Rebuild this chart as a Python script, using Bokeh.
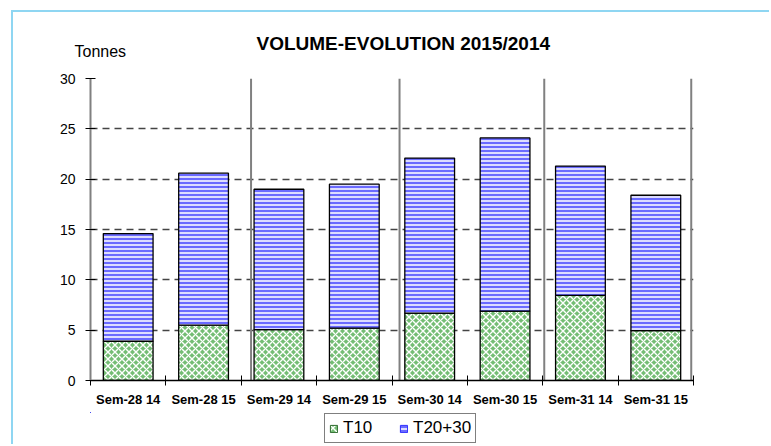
from bokeh.plotting import figure
from bokeh.models import FixedTicker, Legend, LegendItem, ColumnDataSource, LinearAxis
from bokeh.layouts import column
from bokeh.embed import file_html
from bokeh.resources import INLINE

categories = ["Sem-28 14", "Sem-28 15", "Sem-29 14", "Sem-29 15",
              "Sem-30 14", "Sem-30 15", "Sem-31 14", "Sem-31 15"]
t10 = [3.9, 5.5, 5.05, 5.2, 6.7, 6.9, 8.45, 4.95]
t20_30 = [10.7, 15.1, 13.95, 14.3, 15.4, 17.2, 12.85, 13.45]
y_ticks = [0, 5, 10, 15, 20, 25, 30]
separators = [2.13, 4.1, 6.02, 7.97]
unit_label = "Tonnes"
title_text = "VOLUME-EVOLUTION 2015/2014"
series_names = ["T10", "T20+30"]

centers = [i + 0.5 for i in range(len(categories))]
tops = [a + b for a, b in zip(t10, t20_30)]
src = ColumnDataSource(dict(x=centers, t10=t10, top=tops))

FONT = "Liberation Sans"
fill_t10 = dict(fill_color="#74bd74", hatch_pattern="x", hatch_color="white",
                hatch_weight=1.4, hatch_scale=7)
fill_t20 = dict(fill_color="#dcdcff", hatch_pattern="-", hatch_color="#2a2aff",
                hatch_weight=1.3, hatch_scale=4)

p = figure(width=756, height=400, x_range=(0, 8), y_range=(0, 30),
           output_backend="svg", toolbar_location=None,
           min_border_left=77, min_border_right=76, min_border_top=66,
           min_border_bottom=32)
p.outline_line_color = None
p.background_fill_color = "white"

xa = p.below[0]
ya = p.left[0]

# unit label as a top axis (nearest to the frame)
ua = LinearAxis(ticker=FixedTicker(ticks=[0.13]),
                major_label_overrides={0.13: unit_label},
                axis_line_color=None, major_tick_line_color=None,
                minor_tick_line_color=None, major_label_standoff=13,
                major_label_text_font=FONT, major_label_text_font_size="16px",
                major_label_text_color="black")
p.add_layout(ua, "above")

# title
p.title.text = title_text
p.title.align = "left"
p.title.offset = 166
p.title.standoff = -28
p.title.text_font = FONT
p.title.text_font_style = "bold"
p.title.text_font_size = "19px"
p.title.text_color = "black"

# grid
p.xgrid.visible = False
p.ygrid.ticker = FixedTicker(ticks=y_ticks[1:])
p.ygrid.grid_line_color = "#444444"
p.ygrid.grid_line_dash = "7 5"
p.ygrid.grid_line_width = 1.3

# separators
p.segment(x0=separators, y0=[0] * len(separators), x1=separators, y1=[30] * len(separators),
          line_color="#808080", line_width=2)

r1 = p.vbar(x="x", width=0.66, bottom=0, top="t10", source=src,
            line_color="black", line_width=1.3, **fill_t10)
r2 = p.vbar(x="x", width=0.66, bottom="t10", top="top", source=src,
            line_color="black", line_width=1.3, **fill_t20)

# axes
xa.ticker = FixedTicker(ticks=centers, minor_ticks=list(range(len(categories) + 1)))
xa.major_label_overrides = {c: n for c, n in zip(centers, categories)}
xa.major_tick_line_color = None
xa.minor_tick_line_color = "black"
xa.minor_tick_in = 5
xa.minor_tick_out = 5
xa.axis_line_color = "black"
xa.axis_line_width = 1.5
xa.major_label_text_font = FONT
xa.major_label_text_font_style = "bold"
xa.major_label_text_font_size = "13px"
xa.major_label_text_color = "black"
xa.major_label_standoff = 5

ya.ticker = FixedTicker(ticks=y_ticks)
ya.minor_tick_line_color = None
ya.major_tick_in = 5
ya.major_tick_out = 5
ya.major_tick_line_color = "black"
ya.axis_line_color = "#808080"
ya.axis_line_width = 2
ya.major_label_text_font = FONT
ya.major_label_text_font_size = "14px"
ya.major_label_text_color = "black"
ya.major_label_standoff = 10

# legend strip (same series, kept outside its visible range so only the legend shows)
lg = figure(width=756, height=32, x_range=(100, 108), y_range=(-2, -1),
            output_backend="svg", toolbar_location=None,
            x_axis_location=None, y_axis_location=None, min_border=0)
lg.outline_line_color = None
lg.grid.visible = False
d1 = lg.vbar(x=centers, top=t10, width=0.66, line_color="#2e6b2e", line_width=1, **fill_t10)
d2 = lg.vbar(x=centers, top=t20_30, width=0.66, line_color="#2a2aff", line_width=1, **fill_t20)
legend = Legend(items=[LegendItem(label=series_names[0], renderers=[d1]),
                       LegendItem(label=series_names[1], renderers=[d2])],
                orientation="horizontal", location=(234, 1),
                border_line_color="black", border_line_width=1.5,
                label_text_font=FONT, label_text_font_size="17px",
                label_text_color="black",
                glyph_width=9, glyph_height=9, label_height=9, label_width=30,
                spacing=26, padding=4, margin=0, label_standoff=5,
                background_fill_alpha=1)
lg.add_layout(legend)

layout = column(p, lg, spacing=0)
layout.styles = {"border-top": "2px solid #8fd6f2", "border-left": "2px solid #8fd6f2"}
layout.margin = (10, 0, 0, 11)

open("out.html", "w").write(file_html(layout, INLINE))
